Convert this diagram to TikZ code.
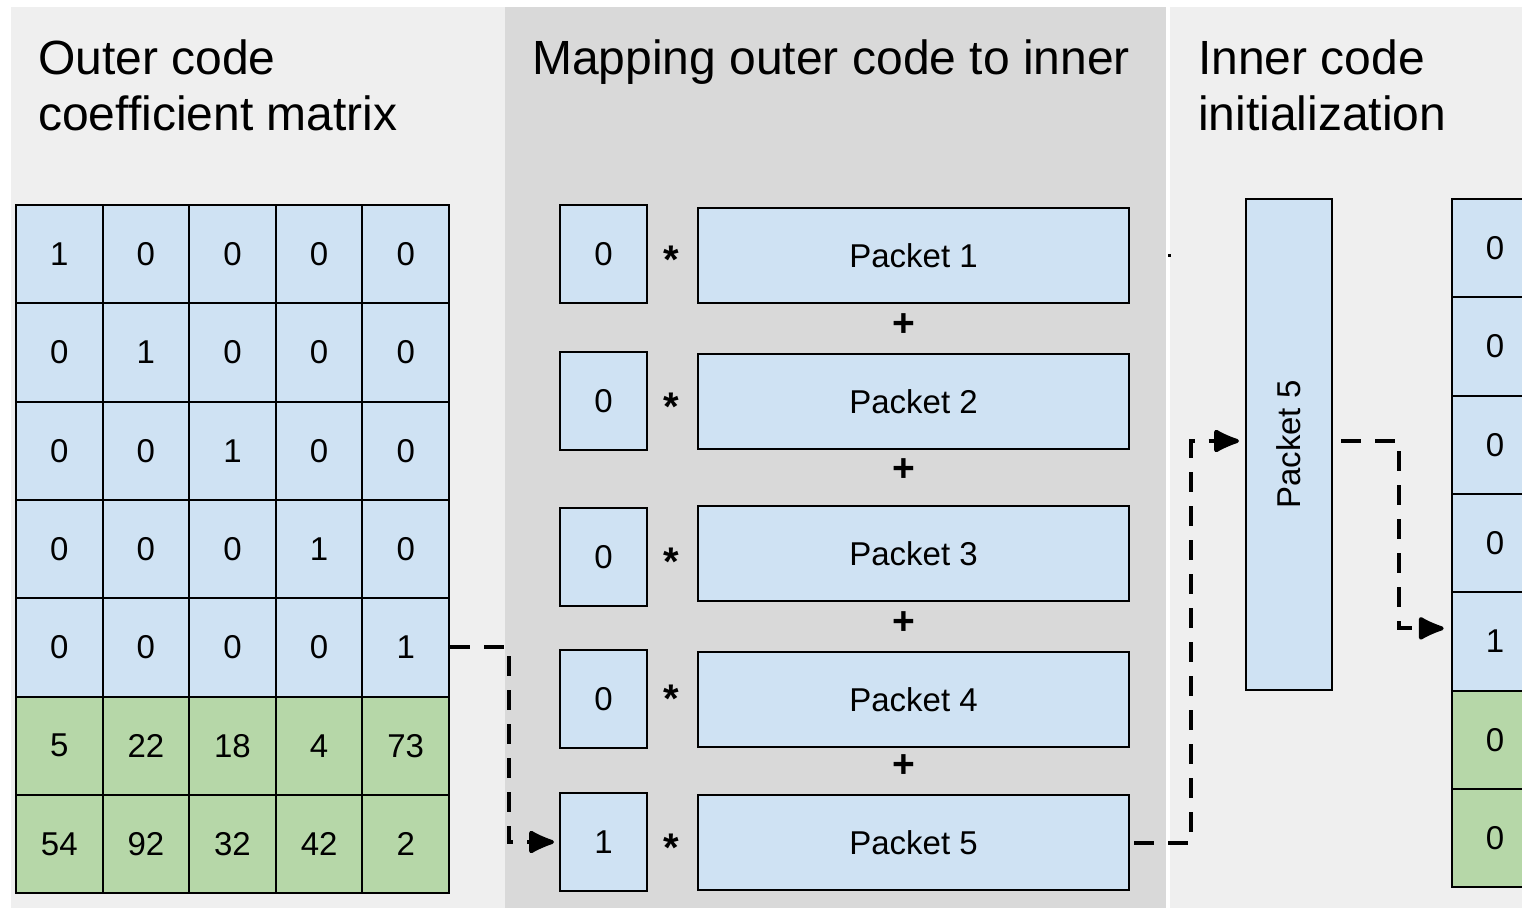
\documentclass[tikz,border=0pt]{standalone}
\usepackage{fontspec}
\setmainfont{Liberation Sans}
\usetikzlibrary{arrows.meta,calc}

\definecolor{blueF}{HTML}{CFE2F3}
\definecolor{greenF}{HTML}{B6D7A8}
\definecolor{panelL}{HTML}{EFEFEF}
\definecolor{panelD}{HTML}{D9D9D9}

\begin{document}
\begin{tikzpicture}[x=1pt,y=-1pt,
  title/.style={anchor=base west, inner sep=0pt, font=\fontsize{48}{56}\selectfont},
  cell/.style={draw=black, line width=2pt, inner sep=0pt,
    minimum width=86.6pt, minimum height=98.3pt, font=\fontsize{33}{33}\selectfont},
  coef/.style={draw=black, line width=2pt, fill=blueF, inner sep=0pt,
    minimum width=87pt, minimum height=98pt, font=\fontsize{33}{33}\selectfont},
  packet/.style={draw=black, line width=2pt, fill=blueF, inner sep=0pt,
    minimum width=431pt, minimum height=95pt, font=\fontsize{33}{33}\selectfont},
  op/.style={anchor=base, inner sep=0pt, font=\bfseries\fontsize{40}{40}\selectfont},
  plus/.style={anchor=base, inner sep=0pt, font=\bfseries\fontsize{39}{39}\selectfont},
  conn/.style={line width=4pt, dash pattern=on 20pt off 14pt,
    -{Latex[round,length=30pt,width=26pt]}}]

% canvas and the three panels
\useasboundingbox (0,0) rectangle (1522,910);
\fill[white] (0,0) rectangle (1522,910);
\fill[panelL] (11,7) rectangle (505,908);
\fill[panelD] (505,7) rectangle (1166,908);
\fill[panelL] (1170,7) rectangle (1522,908);

% panel titles
\node[title] (t1a) at (38,74) {Outer code};
\node[title] (t1b) at (38,130) {coefficient matrix};
\node[title] (t2) at (532,74) {Mapping outer code to inner};
\node[title] (t3a) at (1198,74) {Inner code};
\node[title] (t3b) at (1198,130) {initialization};

% outer code coefficient matrix
\foreach \vals [count=\r] in {{1,0,0,0,0},{0,1,0,0,0},{0,0,1,0,0},{0,0,0,1,0},
                              {0,0,0,0,1},{5,22,18,4,73},{54,92,32,42,2}} {
  \ifnum\r>5 \def\cf{greenF}\else\def\cf{blueF}\fi
  \foreach \v [count=\c] in \vals {
    \node[cell, fill=\cf] (m\r\c) at ({16+86.6*(\c-0.5)}, {205+98.3*(\r-0.5)}) {\v};
  }
}

% coefficients times packets
\foreach \k/\cy/\py/\sy/\val in {1/254/255.5/251/0, 2/401/401.5/398/0, 3/557/553.5/553/0,
                                 4/699/699.5/690/0, 5/842/842.5/839/1} {
  \node[coef] (s\k) at (603.5,\cy) {\val};
  \node[op] (x\k) at (671,\sy+22) {*};
  \node[packet] (p\k) at (913.5,\py) {Packet \k};
}
\foreach \k/\y in {1/322.5, 2/467.5, 3/620.5, 4/763.5} {
  \node[plus] (a\k) at (903.5,\y+14) {+};
}

% inner code initialization
\node[draw=black, line width=2pt, fill=blueF, minimum width=86pt, minimum height=491pt,
  inner sep=0pt] (tp) at (1289,444.5) {};
\node[rotate=90, inner sep=0pt, font=\fontsize{33}{33}\selectfont] (tpl) at (tp) {Packet 5};

\begin{scope}
  \clip (1170,7) rectangle (1522,908);
  \foreach \v [count=\r] in {0,0,0,0,1,0,0} {
    \ifnum\r>5 \def\cf{greenF}\else\def\cf{blueF}\fi
    \node[cell, fill=\cf] (r\r) at (1495, {199+98.3*(\r-0.5)}) {\v};
  }
\end{scope}

% connectors
\draw[conn, shorten >=5pt] (m55.east) -- ++(59,0) |- (s5.west);
\draw[conn, shorten <=4pt, shorten >=6pt] (p5.east) -- ++(61,0) |- ([yshift=3.5pt]tp.west);
\draw[conn, shorten <=8pt, shorten >=7pt] ([yshift=3.5pt]tp.east) -- ++(66,0) |- ([yshift=13pt]r5.west);
\draw[line width=3pt] (p1.east) ++(38,0) -- ++(3,0);

\end{tikzpicture}
\end{document}
